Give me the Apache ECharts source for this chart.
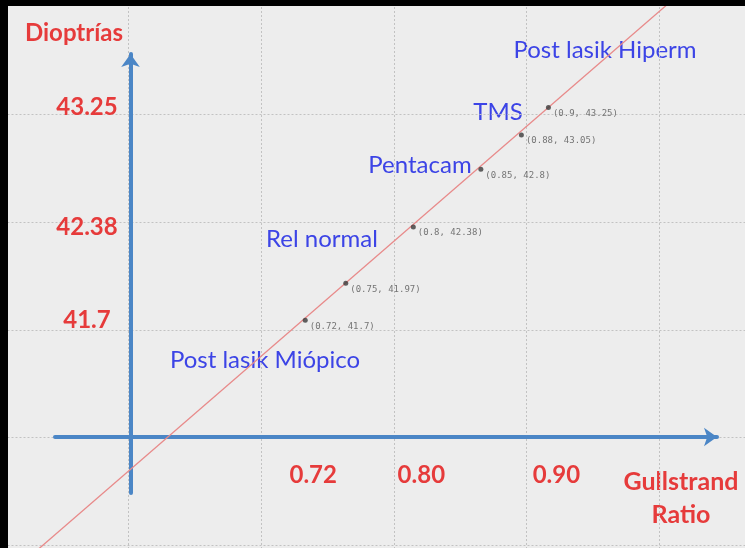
<!DOCTYPE html>
<html>
<head>
<meta charset="utf-8">
<script src="https://cdn.jsdelivr.net/npm/echarts@6/dist/echarts.min.js"></script>
<style>
    html, body {
        margin: 0;
        padding: 0;
        width: 745px;
        height: 548px;
        background: #000;
        overflow: hidden;
    }
    #chart {
        position: absolute;
        left: 8px;
        top: 6px;
        width: 737px;
        height: 542px;
    }
</style>
</head>
<body>
<div id="chart"></div>
<script>
// puntos medidos (Gullstrand ratio, dioptrías)
const gullstrand = [0.72, 0.75, 0.8, 0.85, 0.88, 0.9];
const dioptrias = [41.7, 41.97, 42.38, 42.8, 43.05, 43.25];

// recta de relación (extremos)
const trendX = [0.5, 1.05];
const trendY = [39.84, 44.53];

// marcas de los ejes
const xTickValues = [0.72, 0.80, 0.90];
const yTickValues = [41.7, 42.38, 43.25];

const RED = '#e63b3b';
const BLUE = '#3c44e6';
const ARROW = '#4b86c6';
const FONT = 'Lato';

const chart = echarts.init(document.getElementById('chart'));

const option = {
    backgroundColor: '#ededed',
    animation: false,
    grid: [
        // datos
        {left: 0, right: 0, top: 0, bottom: 0, outerBoundsMode: 'none'},
        // flechas de los ejes
        {left: 47, right: 28, top: 48, bottom: 55, outerBoundsMode: 'none'},
        // cuadrícula punteada
        {left: -12.5, right: -47.3, top: 1, bottom: -104.6, outerBoundsMode: 'none'},
    ],
    xAxis: [
        {
            type: 'value',
            gridIndex: 0,
            min: 0.5,
            max: 1.0455,
            axisLine: {show: false},
            axisTick: {show: false},
            splitLine: {show: false},
            axisLabel: {
                customValues: xTickValues,
                inside: true,
                margin: 73,
                verticalAlign: 'middle',
                padding: [0, 0, 0, 16],
                color: RED,
                fontFamily: FONT,
                fontWeight: 'bold',
                fontSize: 24,
                formatter: (v) => v.toFixed(2),
            },
        },
        {
            type: 'value',
            gridIndex: 1,
            min: -75.5,
            max: 586.5,
            axisLine: {
                show: true,
                onZero: true,
                symbol: ['none', 'arrow'],
                symbolSize: [14, 13],
                lineStyle: {color: ARROW, width: 4},
            },
            axisTick: {show: false},
            axisLabel: {show: false},
            splitLine: {show: false},
        },
        {
            type: 'value',
            gridIndex: 2,
            min: 0,
            max: 6,
            interval: 1,
            axisLine: {show: false},
            axisTick: {show: false},
            axisLabel: {show: false},
            splitLine: {
                show: true,
                showMinLine: false,
                showMaxLine: false,
                lineStyle: {color: '#c2c2c2', type: [2, 2], width: 1},
            },
        },
    ],
    yAxis: [
        {
            type: 'value',
            gridIndex: 0,
            min: 40.04,
            max: 43.99,
            axisLine: {show: false},
            axisTick: {show: false},
            splitLine: {show: false},
            axisLabel: {
                customValues: yTickValues,
                inside: true,
                margin: 79,
                align: 'center',
                color: RED,
                fontFamily: FONT,
                fontWeight: 'bold',
                fontSize: 24,
            },
        },
        {
            type: 'value',
            gridIndex: 1,
            min: -56,
            max: 383,
            axisLine: {
                show: true,
                onZero: true,
                symbol: ['none', 'arrow'],
                symbolSize: [14, 13],
                lineStyle: {color: ARROW, width: 4},
            },
            axisTick: {show: false},
            axisLabel: {show: false},
            splitLine: {show: false},
        },
        {
            type: 'value',
            gridIndex: 2,
            inverse: true,
            min: 0,
            max: 6,
            interval: 1,
            axisLine: {show: false},
            axisTick: {show: false},
            axisLabel: {show: false},
            splitLine: {
                show: true,
                showMinLine: false,
                showMaxLine: false,
                lineStyle: {color: '#c2c2c2', type: [2, 2], width: 1},
            },
        },
    ],
    graphic: [
        {type: 'text', x: 66, y: 27, style: {text: 'Dioptrías', fill: RED, font: 'bold 24px Lato', align: 'center', verticalAlign: 'middle'}},
        {type: 'text', x: 673, y: 476, style: {text: 'Gullstrand', fill: RED, font: 'bold 25px Lato', align: 'center', verticalAlign: 'middle'}},
        {type: 'text', x: 673, y: 509, style: {text: 'Ratio', fill: RED, font: 'bold 25px Lato', align: 'center', verticalAlign: 'middle'}},
        {type: 'text', x: 597, y: 44, style: {text: 'Post lasik Hiperm', fill: BLUE, font: '24px Lato', align: 'center', verticalAlign: 'middle'}},
        {type: 'text', x: 490, y: 106, style: {text: 'TMS', fill: BLUE, font: '24px Lato', align: 'center', verticalAlign: 'middle'}},
        {type: 'text', x: 412, y: 159, style: {text: 'Pentacam', fill: BLUE, font: '24px Lato', align: 'center', verticalAlign: 'middle'}},
        {type: 'text', x: 314, y: 233, style: {text: 'Rel normal', fill: BLUE, font: '24px Lato', align: 'center', verticalAlign: 'middle'}},
        {type: 'text', x: 257, y: 354, style: {text: 'Post lasik Miópico', fill: BLUE, font: '24px Lato', align: 'center', verticalAlign: 'middle'}},
    ],
    series: [
        {
            type: 'line',
            name: 'relación',
            xAxisIndex: 0,
            yAxisIndex: 0,
            data: trendX.map((x, i) => [x, trendY[i]]),
            showSymbol: false,
            lineStyle: {color: '#e88a8a', width: 1.3},
            z: 3,
        },
        {
            type: 'scatter',
            name: 'medidas',
            xAxisIndex: 0,
            yAxisIndex: 0,
            data: gullstrand.map((x, i) => [x, dioptrias[i]]),
            symbol: 'circle',
            symbolSize: 5,
            itemStyle: {color: '#3a3a3a'},
            label: {
                show: true,
                position: 'right',
                distance: 2,
                offset: [0, 6],
                color: '#555',
                fontFamily: 'DejaVu Sans Mono',
                fontSize: 9,
                formatter: (p) => '(' + p.value[0] + ', ' + p.value[1] + ')',
            },
            z: 4,
        },
    ],
};

chart.setOption(option);
</script>
</body>
</html>
